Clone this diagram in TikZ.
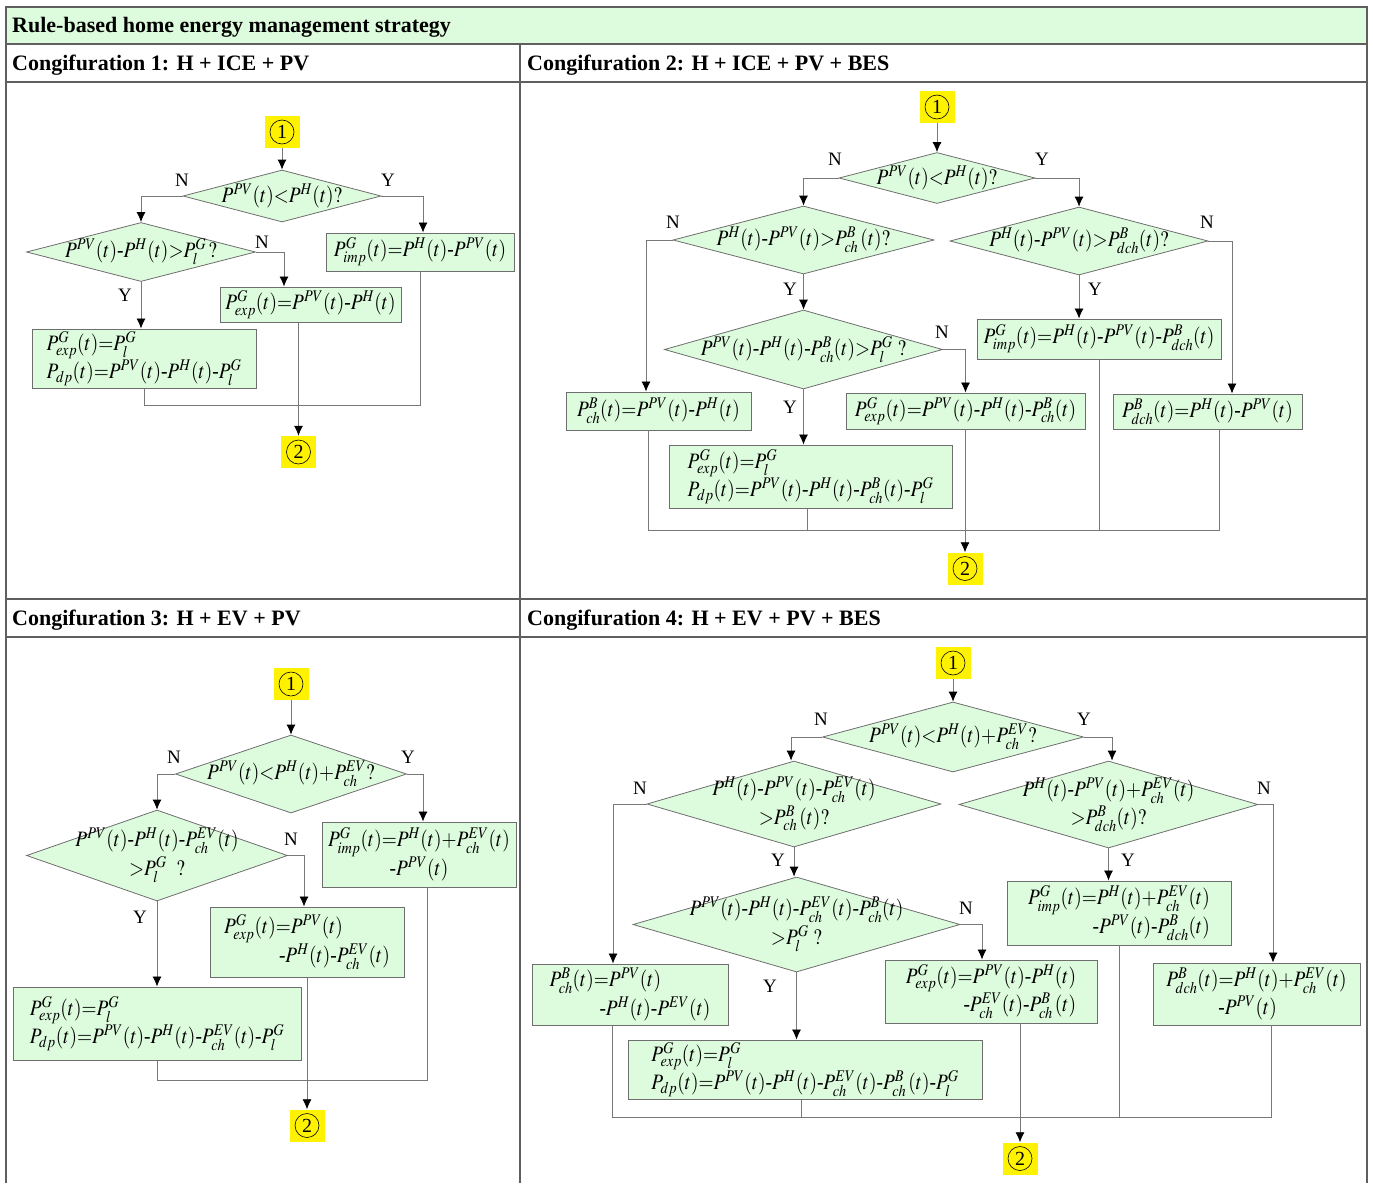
\documentclass[tikz,border=0pt]{standalone}
\usepackage{mathptmx}
\usepackage[no-math]{fontspec}
\setmainfont{Liberation Serif}
\usetikzlibrary{shapes.geometric,arrows.meta}
\definecolor{boxgreen}{RGB}{221,251,221}
\definecolor{boxgray}{RGB}{110,110,110}
\definecolor{linegray}{RGB}{120,120,120}
\definecolor{tablegray}{RGB}{95,95,95}
\newcommand{\myhy}{\mbox{-}}
\newcommand{\myeq}[1]{\scalebox{0.88}[1]{$#1$}}
\newcommand{\myeqf}{\fontsize{22}{28.5}\selectfont\thickmuskip=0mu\medmuskip=0mu}
\newcommand{\myhdf}{\fontsize{22}{26}\selectfont\bfseries}
\newcommand{\mylabf}{\fontsize{19}{21}\selectfont}
\newcommand{\mycircf}{\fontsize{20}{20}\selectfont}
\tikzset{
  dia/.style={draw=boxgray, fill=boxgreen, shape=diamond, inner sep=0pt, line width=0.8pt},
  box/.style={draw=boxgray, fill=boxgreen, inner sep=0pt, line width=0.9pt, align=center, font=\myeqf},
  eq/.style={inner sep=0pt, align=center, font=\myeqf},
  circ/.style={fill=yellow, inner sep=0pt, minimum width=35pt, minimum height=32pt},
  cring/.style={circle, draw=black, line width=0.6pt, inner sep=0pt, minimum size=24pt, font=\mycircf},
  lab/.style={font=\mylabf, inner sep=0pt},
  hdr/.style={font=\myhdf, inner sep=0pt, anchor=base west},
  flow/.style={draw=linegray, line width=0.8pt},
  arr/.style={flow, -{Latex[length=10pt,width=9pt,color=black]}},
  tab/.style={draw=tablegray, line width=1.1pt}
}
\begin{document}
\begin{tikzpicture}[x=1pt,y=-1pt]
\useasboundingbox (0,0) rectangle (1373,1183);
% ---------------- table ----------------
\fill[boxgreen] (6,7) rectangle (1367,44);
\draw[tab] (6,1183) -- (6,7) -- (1367,7) -- (1367,1183);
\draw[tab] (6,44) -- (1367,44);
\draw[tab] (6,82) -- (1367,82);
\draw[tab] (6,599) -- (1367,599);
\draw[tab] (6,637) -- (1367,637);
\draw[tab] (520,44) -- (520,1183);
\node[hdr] (title) at (12,32) {Rule-based home energy management strategy};
\node[hdr] (h1) at (12,70) {Congifuration 1: H + ICE + PV};
\node[hdr] (h2) at (527,70) {Congifuration 2: H + ICE + PV + BES};
\node[hdr] (h3) at (12,625) {Congifuration 3: H + EV + PV};
\node[hdr] (h4) at (527,625) {Congifuration 4: H + EV + PV + BES};

% ---------------- Configuration 1 ----------------
\node[circ] (c1s) at (282,132) {};
\node[cring] (c1sr) at (c1s) {1};
\node[dia, minimum width=198pt, minimum height=52pt] (c1d1) at (282,196) {};
\node[eq] (c1d1t) at (c1d1) {\myeq{P^{PV}(t)<P^{H}(t)?}};
\node[dia, minimum width=229pt, minimum height=59pt] (c1d2) at (141,252) {};
\node[eq] (c1d2t) at (c1d2) {\myeq{P^{PV}(t)\myhy P^{H}(t)>P^{G}_{l}\,?}};
\node[box, minimum width=188pt, minimum height=38pt] (c1imp) at (420,252) {\myeq{P^{G}_{imp}(t)=P^{H}(t)\myhy P^{PV}(t)}};
\node[box, minimum width=181pt, minimum height=35pt] (c1exp) at (310.5,304.5) {\myeq{P^{G}_{exp}(t)=P^{PV}(t)\myhy P^{H}(t)}};
\node[box, minimum width=224pt, minimum height=59pt, align=left] (c1dp) at (144,358.5) {\myeq{P^{G}_{exp}(t)=P^{G}_{l}}\\\myeq{P_{dp}(t)=P^{PV}(t)\myhy P^{H}(t)\myhy P^{G}_{l}}};
\node[circ] (c1e) at (298.5,452) {};
\node[cring] (c1er) at (c1e) {2};
\coordinate (c1m) at (0,405);
\draw[arr] (c1s.south) -- (c1d1.north);
\draw[arr] (c1d1.west) -| (c1d2.north);
\draw[arr] (c1d1.east) -| ([xshift=3pt]c1imp.north);
\draw[arr] (c1d2.east) -| ([xshift=-26.5pt]c1exp.north);
\draw[arr] (c1d2.south) -- (c1d2.south |- c1dp.north);
\draw[flow] (c1dp.south) |- (c1imp.south |- c1m) -- (c1imp.south);
\draw[arr] (c1e.north |- c1exp.south) -- (c1e.north);
\node[lab] (c1l1) at (182,180) {N};
\node[lab] (c1l2) at (388,180) {Y};
\node[lab] (c1l3) at (262,242) {N};
\node[lab] (c1l4) at (125,295) {Y};

% ---------------- Configuration 2 ----------------
\node[circ] (c2s) at (937,107) {};
\node[cring] (c2sr) at (c2s) {1};
\node[dia, minimum width=196pt, minimum height=51pt] (c2d1) at (937,178) {};
\node[eq] (c2d1t) at (c2d1) {\myeq{P^{PV}(t)<P^{H}(t)?}};
\node[dia, minimum width=261pt, minimum height=68pt] (c2d2l) at (803.5,240) {};
\node[eq] (c2d2lt) at (c2d2l) {\myeq{P^{H}(t)\myhy P^{PV}(t)>P^{B}_{ch}\,(t)?}};
\node[dia, minimum width=258pt, minimum height=68pt] (c2d2r) at (1079,241) {};
\node[eq] (c2d2rt) at (c2d2r) {\myeq{P^{H}(t)\myhy P^{PV}(t)>P^{B}_{dch}(t)?}};
\node[dia, minimum width=278pt, minimum height=79pt] (c2d3) at (803.5,349.5) {};
\node[eq] (c2d3t) at (c2d3) {\myeq{P^{PV}(t)\myhy P^{H}(t)\myhy P^{B}_{ch}(t)>P^{G}_{l}\ ?}};
\node[box, minimum width=244pt, minimum height=40pt] (c2imp) at (1099,339) {\myeq{P^{G}_{imp}(t)=P^{H}(t)\myhy P^{PV}(t)\myhy P^{B}_{dch}(t)}};
\node[box, minimum width=185pt, minimum height=38pt] (c2ch) at (658.5,411) {\myeq{P^{B}_{ch}(t)=P^{PV}(t)\myhy P^{H}(t)}};
\node[box, minimum width=239pt, minimum height=36pt] (c2exp) at (965.5,411) {\myeq{P^{G}_{exp}(t)=P^{PV}(t)\myhy P^{H}(t)\myhy P^{B}_{ch}(t)}};
\node[box, minimum width=189pt, minimum height=35pt] (c2dch) at (1207.5,411.5) {\myeq{P^{B}_{dch}(t)=P^{H}(t)\myhy P^{PV}(t)}};
\node[box, minimum width=283pt, minimum height=63pt, align=left] (c2dp) at (810.5,476.5) {\myeq{P^{G}_{exp}(t)=P^{G}_{l}}\\\myeq{P_{dp}(t)=P^{PV}(t)\myhy P^{H}(t)\myhy P^{B}_{ch}(t)\myhy P^{G}_{l}}};
\node[circ] (c2e) at (965,568.5) {};
\node[cring] (c2er) at (c2e) {2};
\coordinate (c2m) at (0,530);
\draw[arr] (c2s.south) -- (c2d1.north);
\draw[arr] (c2d1.west) -| (c2d2l.north);
\draw[arr] (c2d1.east) -| (c2d2r.north);
\draw[arr] (c2d2l.west) -| ([xshift=-12.5pt]c2ch.north);
\draw[arr] (c2d2r.east) -| ([xshift=24.5pt]c2dch.north);
\draw[arr] (c2d2l.south) -- (c2d3.north);
\draw[arr] (c2d2r.south) -- (c2d2r.south |- c2imp.north);
\draw[arr] (c2d3.east) -| (c2exp.north);
\draw[arr] (c2d3.south) -- (c2d3.south |- c2dp.north);
\draw[flow] ([xshift=-10.5pt]c2ch.south) |- ([xshift=11.5pt]c2dch.south |- c2m) -- ([xshift=11.5pt]c2dch.south);
\draw[flow] ([xshift=-3.5pt]c2dp.south) -- ([xshift=-3.5pt]c2dp.south |- c2m);
\draw[flow] (c2imp.south) -- (c2imp.south |- c2m);
\draw[arr] (c2e.north |- c2exp.south) -- (c2e.north);
\node[lab] (c2l1) at (835,159) {N};
\node[lab] (c2l2) at (1042,159) {Y};
\node[lab] (c2l3) at (673,222) {N};
\node[lab] (c2l4) at (1207,222) {N};
\node[lab] (c2l5) at (790,289) {Y};
\node[lab] (c2l6) at (1095,289) {Y};
\node[lab] (c2l7) at (942,332) {N};
\node[lab] (c2l8) at (790,407) {Y};

% ---------------- Configuration 3 ----------------
\node[circ] (c3s) at (291,684) {};
\node[cring] (c3sr) at (c3s) {1};
\node[dia, minimum width=231pt, minimum height=78pt] (c3d1) at (291,774) {};
\node[eq] (c3d1t) at (c3d1) {\myeq{P^{PV}(t)<P^{H}(t)+P^{EV}_{ch}?}};
\node[dia, minimum width=261pt, minimum height=91pt] (c3d2) at (157,855.5) {};
\node[eq] (c3d2t) at (c3d2) {\myeq{P^{PV}(t)\myhy P^{H}(t)\myhy P^{EV}_{ch}(t)}\\\myeq{>P^{G}_{l}\ \ ?}};
\node[box, minimum width=194pt, minimum height=65pt] (c3imp) at (419,854.5) {\myeq{P^{G}_{imp}(t)=P^{H}(t)+P^{EV}_{ch}(t)}\\\myeq{\myhy P^{PV}(t)}};
\node[box, minimum width=194pt, minimum height=70pt, align=left] (c3exp) at (307,942) {\myeq{P^{G}_{exp}(t)=P^{PV}(t)}\\\hspace*{55pt}\myeq{\myhy P^{H}(t)\myhy P^{EV}_{ch}(t)}};
\node[box, minimum width=288pt, minimum height=73pt, align=left] (c3dp) at (157,1023.5) {\myeq{P^{G}_{exp}(t)=P^{G}_{l}}\\\myeq{P_{dp}(t)=P^{PV}(t)\myhy P^{H}(t)\myhy P^{EV}_{ch}(t)\myhy P^{G}_{l}}};
\node[circ] (c3e) at (307,1125.5) {};
\node[cring] (c3er) at (c3e) {2};
\coordinate (c3m) at (0,1080);
\draw[arr] (c3s.south) -- (c3d1.north);
\draw[arr] (c3d1.west) -| (c3d2.north);
\draw[arr] (c3d1.east) -| ([xshift=4pt]c3imp.north);
\draw[arr] (c3d2.east) -| ([xshift=-3pt]c3exp.north);
\draw[arr] (c3d2.south) -- (c3dp.north);
\draw[flow] (c3dp.south) |- ([xshift=8pt]c3imp.south |- c3m) -- ([xshift=8pt]c3imp.south);
\draw[arr] (c3exp.south) -- (c3e.north);
\node[lab] (c3l1) at (174,757) {N};
\node[lab] (c3l2) at (408,757) {Y};
\node[lab] (c3l3) at (291,839) {N};
\node[lab] (c3l4) at (140,917) {Y};

% ---------------- Configuration 4 ----------------
\node[circ] (c4s) at (953,663) {};
\node[cring] (c4sr) at (c4s) {1};
\node[dia, minimum width=261pt, minimum height=70pt] (c4d1) at (953,737) {};
\node[eq] (c4d1t) at (c4d1) {\myeq{P^{PV}(t)<P^{H}(t)+P^{EV}_{ch}?}};
\node[dia, minimum width=294pt, minimum height=86pt] (c4d2l) at (794,804) {};
\node[eq] (c4d2lt) at (c4d2l) {\myeq{P^{H}(t)\myhy P^{PV}(t)\myhy P^{EV}_{ch}(t)}\\\myeq{>P^{B}_{ch}\,(t)?}};
\node[dia, minimum width=299pt, minimum height=87pt] (c4d2r) at (1108.5,804.5) {};
\node[eq] (c4d2rt) at (c4d2r) {\myeq{P^{H}(t)\myhy P^{PV}(t)+P^{EV}_{ch}(t)}\\\myeq{>P^{B}_{dch}(t)?}};
\node[dia, minimum width=327pt, minimum height=95pt] (c4d3) at (796.5,924.5) {};
\node[eq] (c4d3t) at (c4d3) {\myeq{P^{PV}(t)\myhy P^{H}(t)\myhy P^{EV}_{ch}(t)\myhy P^{B}_{ch}(t)}\\\myeq{>P^{G}_{l}\ ?}};
\node[box, minimum width=224pt, minimum height=64pt, align=right] (c4imp) at (1119,913) {\myeq{P^{G}_{imp}(t)=P^{H}(t)+P^{EV}_{ch}(t)}\\\myeq{\myhy P^{PV}(t)\myhy P^{B}_{dch}(t)}};
\node[box, minimum width=196pt, minimum height=61pt, align=left] (c4ch) at (630,994.5) {\myeq{P^{B}_{ch}(t)=P^{PV}(t)}\\\hspace*{50pt}\myeq{\myhy P^{H}(t)\myhy P^{EV}(t)}};
\node[box, minimum width=212pt, minimum height=63pt, align=right] (c4exp) at (991,991.5) {\myeq{P^{G}_{exp}(t)=P^{PV}(t)\myhy P^{H}(t)}\\\myeq{\myhy P^{EV}_{ch}(t)\myhy P^{B}_{ch}\,(t)}};
\node[box, minimum width=207pt, minimum height=62pt, align=left] (c4dch) at (1256.5,994) {\myeq{P^{B}_{dch}(t)=P^{H}(t)+P^{EV}_{ch}(t)}\\\hspace*{52pt}\myeq{\myhy P^{PV}(t)}};
\node[box, minimum width=354pt, minimum height=59pt, align=left] (c4dp) at (805,1069.5) {\myeq{P^{G}_{exp}(t)=P^{G}_{l}}\\\myeq{P_{dp}(t)=P^{PV}(t)\myhy P^{H}(t)\myhy P^{EV}_{ch}(t)\myhy P^{B}_{ch}\,(t)\myhy P^{G}_{l}}};
\node[circ] (c4e) at (1020,1158.5) {};
\node[cring] (c4er) at (c4e) {2};
\coordinate (c4m) at (0,1117);
\draw[arr] (c4s.south) -- (c4d1.north);
\draw[arr] (c4d1.west) -| ([xshift=-3pt]c4d2l.north);
\draw[arr] (c4d1.east) -| ([xshift=3.5pt]c4d2r.north);
\draw[arr] (c4d2l.west) -| ([xshift=-17pt]c4ch.north);
\draw[arr] (c4d2r.east) -| ([xshift=16.5pt]c4dch.north);
\draw[arr] (c4d2l.south) -- (c4d2l.south |- c4d3.north);
\draw[arr] (c4d2r.south) -- (c4d2r.south |- c4imp.north);
\draw[arr] (c4d3.east) -| ([xshift=-9pt]c4exp.north);
\draw[arr] (c4d3.south) -- (c4d3.south |- c4dp.north);
\draw[flow] ([xshift=-18pt]c4ch.south) |- ([xshift=14.5pt]c4dch.south |- c4m) -- ([xshift=14.5pt]c4dch.south);
\draw[flow] ([xshift=-4pt]c4dp.south) -- ([xshift=-4pt]c4dp.south |- c4m);
\draw[flow] (c4imp.south) -- (c4imp.south |- c4m);
\draw[arr] (c4e.north |- c4exp.south) -- (c4e.north);
\node[lab] (c4l1) at (821,719) {N};
\node[lab] (c4l2) at (1084,719) {Y};
\node[lab] (c4l3) at (640,788) {N};
\node[lab] (c4l4) at (1264,788) {N};
\node[lab] (c4l5) at (778,860) {Y};
\node[lab] (c4l6) at (1128,860) {Y};
\node[lab] (c4l7) at (966,908) {N};
\node[lab] (c4l8) at (770,986) {Y};
\end{tikzpicture}
\end{document}
